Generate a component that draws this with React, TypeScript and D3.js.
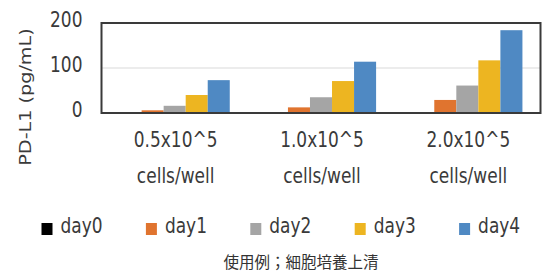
import * as d3 from "d3";

const groups = ["0.5x10^5", "1.0x10^5", "2.0x10^5"];
const groupSub = "cells/well";
const series = ["day0", "day1", "day2", "day3", "day4"];
const colors = ["#000000", "#E0742F", "#A5A5A5", "#EDB521", "#4F89C3"];
// values per series, one entry per group
const day0 = [0, 0, 0];
const day1 = [6, 12.5, 29];
const day2 = [16, 35, 61];
const day3 = [40, 71, 117];
const day4 = [73, 114, 184];
const yTicks = [0, 100, 200];
const yLabel = "PD-L1 (pg/mL)";
const caption = "使用例；細胞培養上清";

const width = 545;
const height = 273;
const margin = { top: 23, right: 4.5, bottom: 160, left: 101.5 };

export default function App() {
  const values = [day0, day1, day2, day3, day4];
  const plotW = width - margin.left - margin.right;
  const plotH = height - margin.top - margin.bottom;

  const x = d3.scaleBand().domain(groups).range([0, plotW]).padding(0);
  const xs = d3
    .scaleBand()
    .domain(series)
    .range([0, x.bandwidth()])
    .paddingInner(0)
    .paddingOuter(0.82);
  const y = d3.scaleLinear().domain([0, 200]).range([plotH, 0]);

  const textColor = "#3a3a3a";
  const font = "DejaVu Sans, Verdana, sans-serif";
  // the picture is stretched a bit vertically, so text is too
  const stretch = "scale(1,1.2)";

  return (
    <svg
      width={width}
      height={height}
      style={{ position: "absolute", left: 0, top: 0, background: "#fff" }}
      fontFamily={font}
    >
      {/* y axis title */}
      <text
        transform={`translate(26,97) ${stretch} rotate(-90)`}
        textAnchor="middle"
        dominantBaseline="central"
        fontSize={16}
        fill={textColor}
      >
        {yLabel}
      </text>

      <g transform={`translate(${margin.left},${margin.top})`}>
        {/* gridlines */}
        {yTicks
          .filter((t) => t !== 0 && t !== 200)
          .map((t) => (
            <line
              key={t}
              x1={0}
              x2={plotW}
              y1={y(t)}
              y2={y(t)}
              stroke="#d9d9d9"
              strokeWidth={1.2}
            />
          ))}

        {/* bars */}
        {groups.map((g, gi) => (
          <g key={g} transform={`translate(${x(g)},0)`}>
            {series.map((s, si) => {
              const v = values[si][gi];
              return (
                <rect
                  key={s}
                  x={xs(s)}
                  y={y(v)}
                  width={xs.bandwidth()}
                  height={plotH - y(v)}
                  fill={colors[si]}
                />
              );
            })}
          </g>
        ))}

        {/* frame */}
        <rect
          x={0}
          y={0}
          width={plotW}
          height={plotH}
          fill="none"
          stroke="#3a3a3a"
          strokeWidth={2}
        />

        {/* y tick labels */}
        {yTicks.map((t) => (
          <text
            key={t}
            transform={`translate(-19,${y(t) + 4}) ${stretch}`}
            textAnchor="end"
            fontSize={17}
            fill={textColor}
          >
            {t}
          </text>
        ))}

        {/* x labels */}
        {groups.map((g) => (
          <g key={g} transform={`translate(${(x(g) ?? 0) + x.bandwidth() / 2 + 1},0)`}>
            <text
              transform={`translate(0,${147 - margin.top}) ${stretch}`}
              textAnchor="middle"
              fontSize={17}
              fill={textColor}
            >
              {g}
            </text>
            <text
              transform={`translate(0,${183 - margin.top}) ${stretch}`}
              textAnchor="middle"
              fontSize={17}
              fill={textColor}
            >
              {groupSub}
            </text>
          </g>
        ))}
      </g>

      {/* legend */}
      {series.map((s, i) => {
        const lx = 41.5 + i * 104.4;
        return (
          <g key={s}>
            <rect x={lx} y={223} width={11} height={12} fill={colors[i]} />
            <text
              transform={`translate(${lx + 19},233) ${stretch}`}
              fontSize={17}
              fill={textColor}
            >
              {s}
            </text>
          </g>
        );
      })}

      {/* caption */}
      <text
        x={301}
        y={268}
        textAnchor="middle"
        fontSize={15.5}
        fontFamily="Noto Sans CJK JP, sans-serif"
        fill="#333"
      >
        {caption}
      </text>
    </svg>
  );
}
